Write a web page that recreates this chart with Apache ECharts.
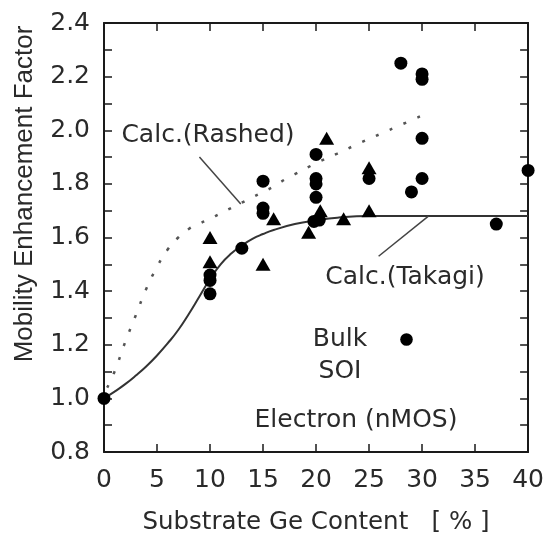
<!DOCTYPE html>
<html>
<head>
<meta charset="utf-8">
<script src="https://cdn.jsdelivr.net/npm/echarts@6/dist/echarts.min.js"></script>
<style>
  html, body { margin: 0; padding: 0; background: #fff; }
  #chart { width: 547px; height: 534px; }
</style>
</head>
<body>
<div id="chart"></div>
<script>
// Substrate Ge content [%] vs. electron mobility enhancement factor

// Bulk devices (filled circles): [Ge %, enhancement]
var bulkPoints = [
  [0, 1.00],
  [10, 1.46], [10, 1.44], [10, 1.39],
  [13, 1.56],
  [15, 1.81], [15, 1.69], [15, 1.71],
  [20, 1.91], [20, 1.82], [20, 1.80], [20, 1.75], [19.8, 1.66], [20.3, 1.665],
  [25, 1.82],
  [28, 2.25],
  [29, 1.77],
  [30, 2.21], [30, 2.19], [30, 1.97], [30, 1.82],
  [37, 1.65],
  [40, 1.85]
];

// SOI devices (filled triangles)
var soiPoints = [
  [10, 1.60], [10, 1.51],
  [15, 1.50], [16, 1.67],
  [19.3, 1.62], [20.4, 1.70],
  [21, 1.97], [22.6, 1.67],
  [25, 1.86], [25, 1.70]
];

// Calculated curves
var takagiX = [0, 1, 2, 3, 4, 5, 6, 7, 8, 9, 10, 11, 12, 13, 14, 15, 16, 18, 20, 22, 25, 30, 35, 40];
var takagiY = [1.00, 1.025, 1.053, 1.085, 1.12, 1.16, 1.205, 1.255, 1.315, 1.38, 1.445, 1.50, 1.54, 1.57, 1.595, 1.613, 1.628, 1.65, 1.664, 1.674, 1.68, 1.68, 1.68, 1.68];

var rashedX = [0.3, 1, 2, 3, 4, 5, 6, 7, 8, 9, 10, 11, 12, 13, 14, 15, 16, 17, 18, 20, 22, 24, 26, 28, 30];
var rashedY = [1.04, 1.10, 1.21, 1.31, 1.41, 1.49, 1.555, 1.60, 1.632, 1.652, 1.67, 1.69, 1.71, 1.73, 1.75, 1.77, 1.79, 1.815, 1.836, 1.877, 1.913, 1.95, 1.985, 2.02, 2.055];

// Leader lines from the curve labels to their curves
var rashedLeader = [[9.0, 1.90], [12.9, 1.725]];
var takagiLeader = [[30.6, 1.68], [25.9, 1.53]];

// Tick labels
var xTickLabels = ['0', '5', '10', '15', '20', '25', '30', '35', '40'];
var yTickLabels = ['0.8', '1.0', '1.2', '1.4', '1.6', '1.8', '2.0', '2.2', '2.4'];

function zipXY(xs, ys) {
  return xs.map(function (x, i) { return [x, ys[i]]; });
}

var INK = '#1a1a1a';
var TEXT = '#2a2a2a';
var LABEL_FONT = 'DejaVu Sans';

var chart = echarts.init(document.getElementById('chart'), null, { renderer: 'canvas' });

var axisCommon = {
  axisLine: { show: true, onZero: false, lineStyle: { color: INK, width: 2 } },
  axisTick: { show: true, inside: true, length: 8, lineStyle: { color: INK, width: 1.5 } },
  splitLine: { show: false }
};

function xAxisDef(pos, labels) {
  return Object.assign({}, axisCommon, {
    type: 'value', position: pos, min: 0, max: 40, interval: 5,
    axisLabel: labels ? {
      show: true, margin: 16, color: TEXT, fontFamily: LABEL_FONT, fontSize: 25,
      formatter: function (v, i) { return xTickLabels[i]; }
    } : { show: false }
  });
}

function yAxisDef(pos, labels) {
  return Object.assign({}, axisCommon, {
    type: 'value', position: pos, min: 0.8, max: 2.4, interval: 0.2,
    minorTick: { show: true, splitNumber: 2, length: 8, lineStyle: { color: INK, width: 1.5 } },
    axisTick: { show: true, inside: true, length: 8, lineStyle: { color: INK, width: 1.5 } },
    axisLabel: labels ? {
      show: true, margin: 14, color: TEXT, fontFamily: LABEL_FONT, fontSize: 25,
      formatter: function (v, i) { return yTickLabels[i]; }
    } : { show: false }
  });
}

var option = {
  backgroundColor: '#ffffff',
  animation: false,
  grid: { left: 104, right: 17, top: 23, bottom: 82, containLabel: false },
  xAxis: [xAxisDef('bottom', true), xAxisDef('top', false)],
  yAxis: [yAxisDef('left', true), yAxisDef('right', false)],
  series: [
    {
      name: 'Calc.(Rashed)', type: 'line', data: zipXY(rashedX, rashedY),
      smooth: 0.5, showSymbol: false, clip: false,
      lineStyle: { color: '#555', width: 2.5, type: [3, 12] }, z: 2
    },
    {
      name: 'Calc.(Takagi)', type: 'line', data: zipXY(takagiX, takagiY),
      smooth: 0.5, showSymbol: false, clip: false,
      lineStyle: { color: '#333', width: 2 }, z: 2
    },
    {
      name: 'rashed-leader', type: 'line', data: rashedLeader,
      showSymbol: false, lineStyle: { color: '#444', width: 1.5 }, z: 2
    },
    {
      name: 'takagi-leader', type: 'line', data: takagiLeader,
      showSymbol: false, lineStyle: { color: '#444', width: 1.5 }, z: 2
    },
    {
      name: 'Bulk', type: 'scatter', data: bulkPoints, clip: false,
      symbol: 'circle', symbolSize: 13,
      itemStyle: { color: '#000', opacity: 1 }, z: 5
    },
    {
      name: 'SOI', type: 'scatter', data: soiPoints, clip: false,
      symbol: 'triangle', symbolSize: [15, 13],
      itemStyle: { color: '#000', opacity: 1 }, z: 5
    }
  ],
  graphic: [
    {
      type: 'text', x: 25, y: 194, rotation: Math.PI / 2,
      style: {
        text: 'Mobility Enhancement Factor', fill: TEXT,
        font: '26px "Liberation Sans", Arial, sans-serif',
        textAlign: 'center', textVerticalAlign: 'middle'
      }
    },
    {
      type: 'text', x: 316, y: 523,
      style: {
        text: 'Substrate Ge Content   [ % ]', fill: TEXT,
        font: '24.5px "DejaVu Sans", sans-serif',
        textAlign: 'center', textVerticalAlign: 'middle'
      }
    },
    {
      type: 'text', x: 208, y: 135,
      style: {
        text: 'Calc.(Rashed)', fill: TEXT,
        font: '25px "DejaVu Sans", sans-serif',
        textAlign: 'center', textVerticalAlign: 'middle'
      }
    },
    {
      type: 'text', x: 405, y: 277,
      style: {
        text: 'Calc.(Takagi)', fill: TEXT,
        font: '25px "DejaVu Sans", sans-serif',
        textAlign: 'center', textVerticalAlign: 'middle'
      }
    },
    {
      type: 'text', x: 340, y: 339,
      style: {
        text: 'Bulk', fill: TEXT,
        font: '25px "DejaVu Sans", sans-serif',
        textAlign: 'center', textVerticalAlign: 'middle'
      }
    },
    {
      type: 'circle', shape: { cx: 406.5, cy: 339.5, r: 6.3 },
      style: { fill: '#000' }
    },
    {
      type: 'text', x: 340, y: 371,
      style: {
        text: 'SOI', fill: TEXT,
        font: '25px "DejaVu Sans", sans-serif',
        textAlign: 'center', textVerticalAlign: 'middle'
      }
    },
    {
      type: 'text', x: 356, y: 420,
      style: {
        text: 'Electron (nMOS)', fill: TEXT,
        font: '25px "DejaVu Sans", sans-serif',
        textAlign: 'center', textVerticalAlign: 'middle'
      }
    }
  ]
};

chart.setOption(option);
</script>
</body>
</html>
